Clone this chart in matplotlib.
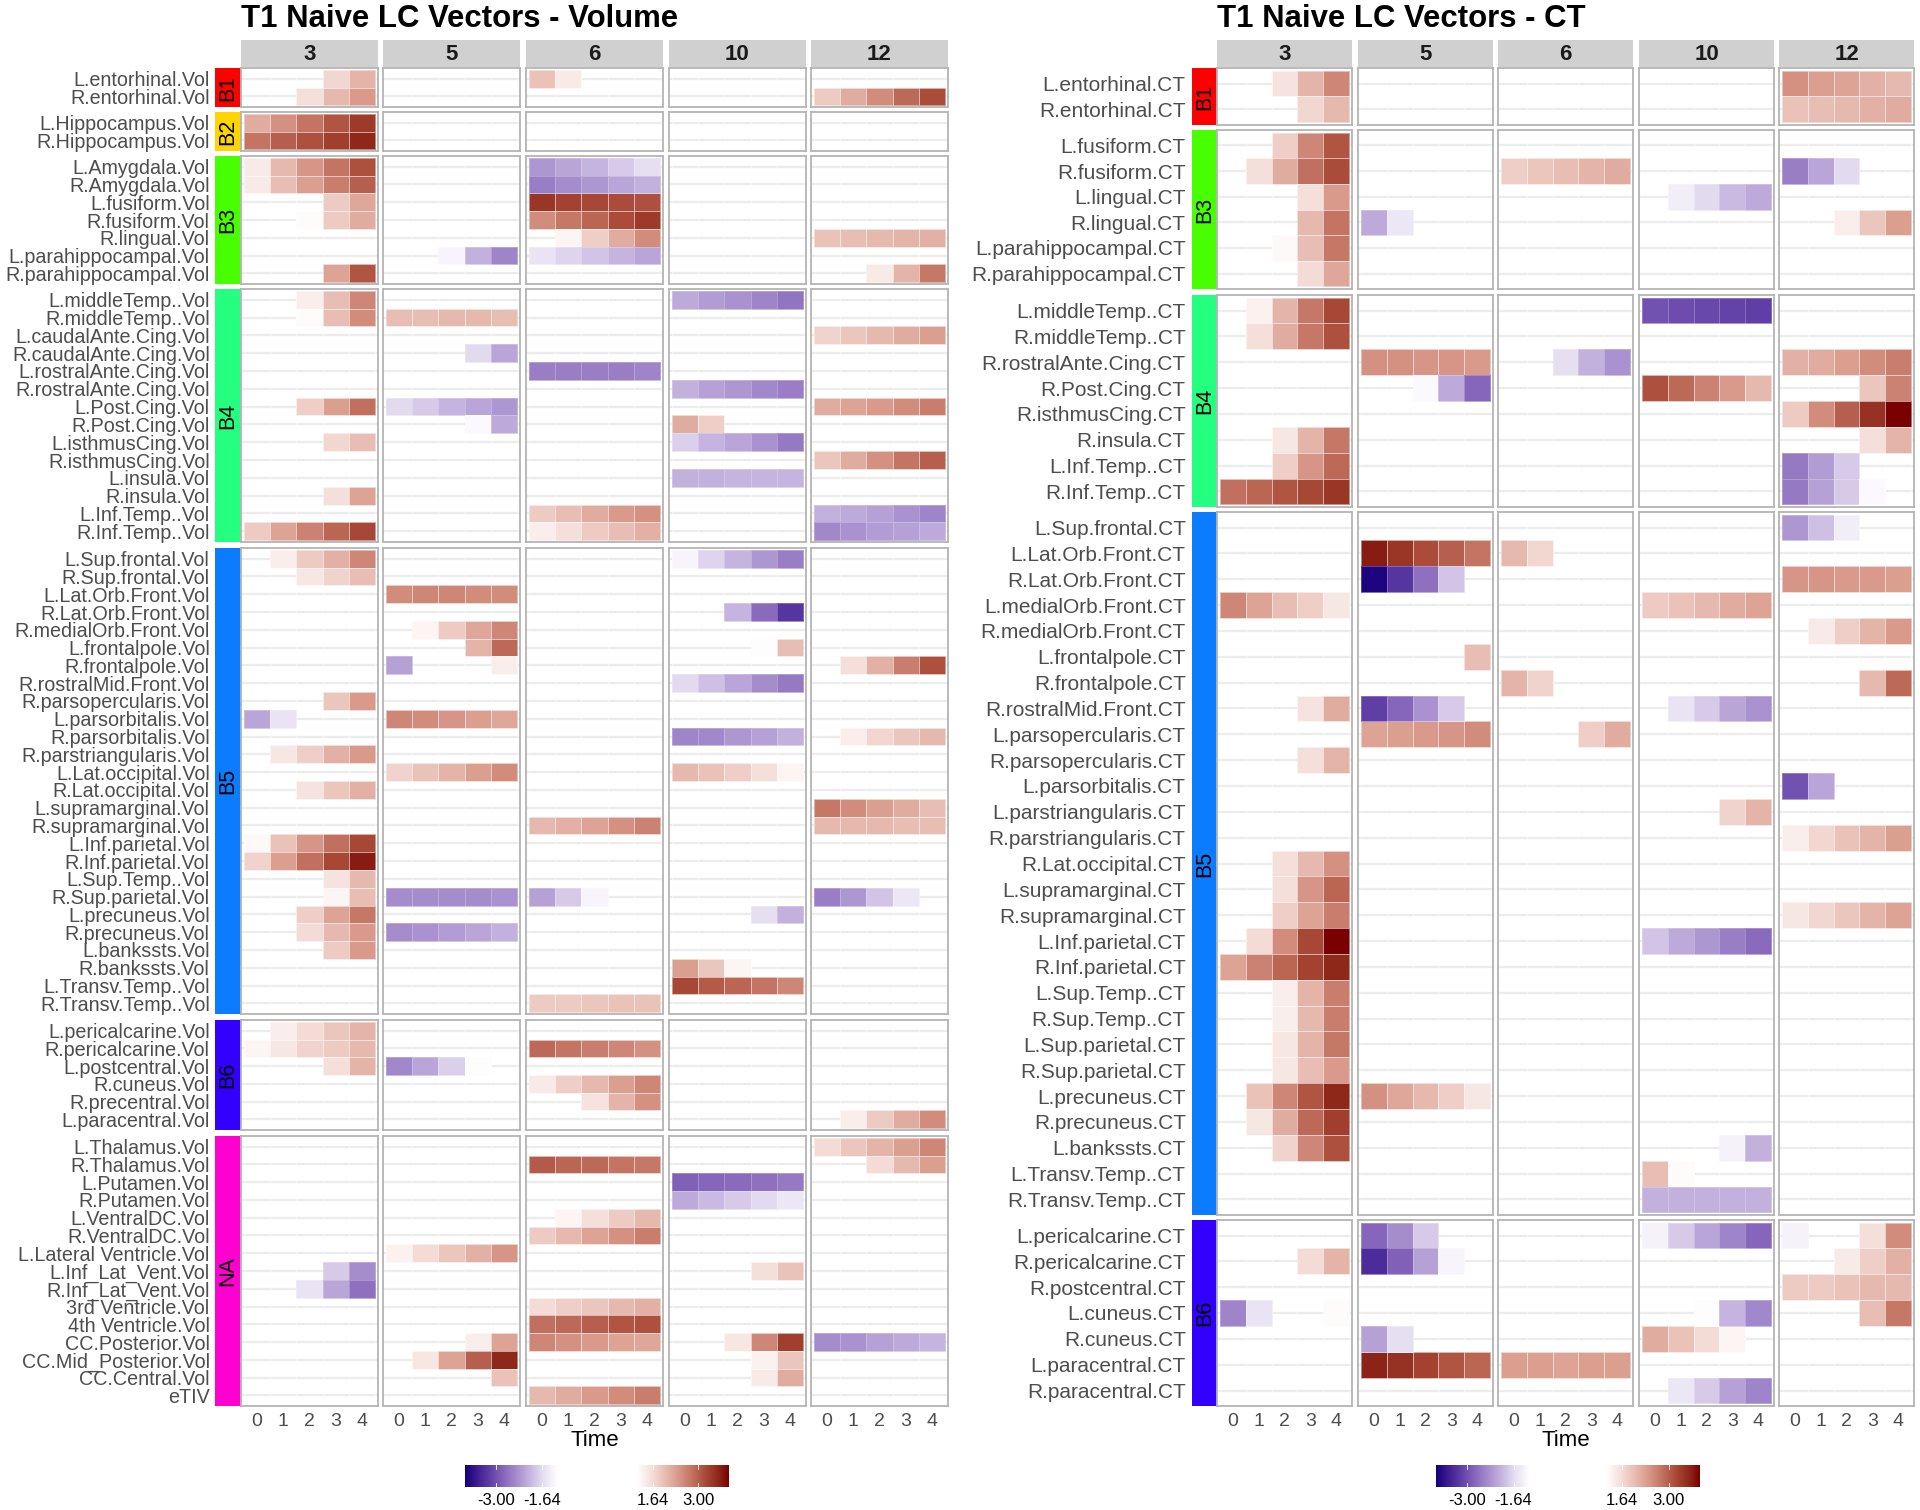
import numpy as np
import matplotlib
matplotlib.use('Agg')
import matplotlib.pyplot as plt
from matplotlib.colors import LinearSegmentedColormap

plt.rcParams['font.family'] = ['Liberation Sans', 'DejaVu Sans']

W, H = 1920, 1510

# week facets
weeks = [3, 5, 6, 10, 12]
times = [0, 1, 2, 3, 4]
block_colors = {'B1': '#ff0000', 'B2': '#ffd500', 'B3': '#48ff00', 'B4': '#24ff80',
                'B5': '#0b7bff', 'B6': '#3300ff', 'NA': '#ff00d0'}

# Volume: regions per block
vol_regions = {
    'B1': ['L.entorhinal.Vol', 'R.entorhinal.Vol'],
    'B2': ['L.Hippocampus.Vol', 'R.Hippocampus.Vol'],
    'B3': ['L.Amygdala.Vol', 'R.Amygdala.Vol', 'L.fusiform.Vol', 'R.fusiform.Vol', 'R.lingual.Vol',
           'L.parahippocampal.Vol', 'R.parahippocampal.Vol'],
    'B4': ['L.middleTemp..Vol', 'R.middleTemp..Vol', 'L.caudalAnte.Cing.Vol', 'R.caudalAnte.Cing.Vol',
           'L.rostralAnte.Cing.Vol', 'R.rostralAnte.Cing.Vol', 'L.Post.Cing.Vol', 'R.Post.Cing.Vol',
           'L.isthmusCing.Vol', 'R.isthmusCing.Vol', 'L.insula.Vol', 'R.insula.Vol',
           'L.Inf.Temp..Vol', 'R.Inf.Temp..Vol'],
    'B5': ['L.Sup.frontal.Vol', 'R.Sup.frontal.Vol', 'L.Lat.Orb.Front.Vol', 'R.Lat.Orb.Front.Vol',
           'R.medialOrb.Front.Vol', 'L.frontalpole.Vol', 'R.frontalpole.Vol', 'R.rostralMid.Front.Vol',
           'R.parsopercularis.Vol', 'L.parsorbitalis.Vol', 'R.parsorbitalis.Vol', 'R.parstriangularis.Vol',
           'L.Lat.occipital.Vol', 'R.Lat.occipital.Vol', 'L.supramarginal.Vol', 'R.supramarginal.Vol',
           'L.Inf.parietal.Vol', 'R.Inf.parietal.Vol', 'L.Sup.Temp..Vol', 'R.Sup.parietal.Vol',
           'L.precuneus.Vol', 'R.precuneus.Vol', 'L.bankssts.Vol', 'R.bankssts.Vol',
           'L.Transv.Temp..Vol', 'R.Transv.Temp..Vol'],
    'B6': ['L.pericalcarine.Vol', 'R.pericalcarine.Vol', 'L.postcentral.Vol', 'R.cuneus.Vol',
           'R.precentral.Vol', 'L.paracentral.Vol'],
    'NA': ['L.Thalamus.Vol', 'R.Thalamus.Vol', 'L.Putamen.Vol', 'R.Putamen.Vol', 'L.VentralDC.Vol',
           'R.VentralDC.Vol', 'L.Lateral Ventricle.Vol', 'L.Inf_Lat_Vent.Vol', 'R.Inf_Lat_Vent.Vol',
           '3rd Ventricle.Vol', '4th Ventricle.Vol', 'CC.Posterior.Vol', 'CC.Mid_Posterior.Vol',
           'CC.Central.Vol', 'eTIV'],
}

# CT: regions per block
ct_regions = {
    'B1': ['L.entorhinal.CT', 'R.entorhinal.CT'],
    'B3': ['L.fusiform.CT', 'R.fusiform.CT', 'L.lingual.CT', 'R.lingual.CT', 'L.parahippocampal.CT',
           'R.parahippocampal.CT'],
    'B4': ['L.middleTemp..CT', 'R.middleTemp..CT', 'R.rostralAnte.Cing.CT', 'R.Post.Cing.CT',
           'R.isthmusCing.CT', 'R.insula.CT', 'L.Inf.Temp..CT', 'R.Inf.Temp..CT'],
    'B5': ['L.Sup.frontal.CT', 'L.Lat.Orb.Front.CT', 'R.Lat.Orb.Front.CT', 'L.medialOrb.Front.CT',
           'R.medialOrb.Front.CT', 'L.frontalpole.CT', 'R.frontalpole.CT', 'R.rostralMid.Front.CT',
           'L.parsopercularis.CT', 'R.parsopercularis.CT', 'L.parsorbitalis.CT', 'L.parstriangularis.CT',
           'R.parstriangularis.CT', 'R.Lat.occipital.CT', 'L.supramarginal.CT', 'R.supramarginal.CT',
           'L.Inf.parietal.CT', 'R.Inf.parietal.CT', 'L.Sup.Temp..CT', 'R.Sup.Temp..CT',
           'L.Sup.parietal.CT', 'R.Sup.parietal.CT', 'L.precuneus.CT', 'R.precuneus.CT',
           'L.bankssts.CT', 'L.Transv.Temp..CT', 'R.Transv.Temp..CT'],
    'B6': ['L.pericalcarine.CT', 'R.pericalcarine.CT', 'R.postcentral.CT', 'L.cuneus.CT', 'R.cuneus.CT',
           'L.paracentral.CT', 'R.paracentral.CT'],
}

# z values read from the cell shades, 0 = not significant
vol_w3 = {
    'L.entorhinal.Vol': [0, 0, 0, 1.7, 2.1], 'R.entorhinal.Vol': [0, 0, 1.6, 2.05, 2.4],
    'L.Hippocampus.Vol': [2.2, 2.5, 2.8, 3.1, 3.4], 'R.Hippocampus.Vol': [2.8, 3.0, 3.15, 3.35, 3.6],
    'L.Amygdala.Vol': [1.45, 2.05, 2.45, 2.8, 3.15], 'R.Amygdala.Vol': [1.45, 2.0, 2.35, 2.7, 3.0],
    'L.fusiform.Vol': [0, 0, 0, 1.85, 2.25], 'R.fusiform.Vol': [0, 0, 1.22, 1.85, 2.2],
    'R.parahippocampal.Vol': [0, 0, 0, 2.3, 3.1],
    'L.middleTemp..Vol': [0, 0, 1.4, 2.0, 2.6], 'R.middleTemp..Vol': [0, 0, 1.22, 2.0, 2.55],
    'L.Post.Cing.Vol': [0, 0, 1.8, 2.35, 2.85], 'L.isthmusCing.Vol': [0, 0, 0, 1.7, 2.0],
    'R.insula.Vol': [0, 0, 0, 1.6, 2.3], 'R.Inf.Temp..Vol': [1.85, 2.3, 2.65, 2.95, 3.25],
    'L.Sup.frontal.Vol': [0, 1.4, 1.85, 2.15, 2.6], 'R.Sup.frontal.Vol': [0, 0, 1.5, 1.75, 2.0],
    'R.parsopercularis.Vol': [0, 0, 0, 1.9, 2.4], 'L.parsorbitalis.Vol': [-2.15, -1.55, 0, 0, 0],
    'R.parstriangularis.Vol': [0, 1.5, 1.8, 2.15, 2.4], 'R.Lat.occipital.Vol': [0, 0, 1.55, 1.9, 2.15],
    'L.Inf.parietal.Vol': [1.25, 1.95, 2.45, 2.85, 3.25], 'R.Inf.parietal.Vol': [1.75, 2.35, 2.85, 3.25, 3.7],
    'L.Sup.Temp..Vol': [0, 0, 0, 1.55, 2.05], 'R.Sup.parietal.Vol': [0, 0, 0, 1.3, 2.0],
    'L.precuneus.Vol': [0, 0, 1.8, 2.3, 2.75], 'R.precuneus.Vol': [0, 0, 1.65, 2.05, 2.4],
    'L.bankssts.Vol': [0, 0, 0, 1.85, 2.4],
    'L.pericalcarine.Vol': [0, 1.4, 1.65, 1.9, 2.1], 'R.pericalcarine.Vol': [1.3, 1.5, 1.75, 1.85, 2.05],
    'L.postcentral.Vol': [0, 0, 0, 1.6, 2.1],
    'L.Inf_Lat_Vent.Vol': [0, 0, 0, -1.8, -2.4], 'R.Inf_Lat_Vent.Vol': [0, 0, -1.55, -2.15, -2.7],
}
vol_w5 = {
    'L.parahippocampal.Vol': [0, 0, -1.3, -2.05, -2.5], 'R.middleTemp..Vol': [2.0, 2.0, 2.05, 2.05, 2.0],
    'R.caudalAnte.Cing.Vol': [0, 0, 0, -1.65, -2.15], 'L.Post.Cing.Vol': [-1.65, -1.8, -2.0, -2.15, -2.3],
    'R.Post.Cing.Vol': [0, 0, 0, -1.25, -2.1], 'L.Lat.Orb.Front.Vol': [2.55, 2.6, 2.6, 2.55, 2.55],
    'R.medialOrb.Front.Vol': [0, 1.3, 1.85, 2.25, 2.6], 'L.frontalpole.Vol': [0, 0, 0, 2.1, 2.9],
    'R.frontalpole.Vol': [-2.2, 0, 0, 0, 1.4], 'L.parsorbitalis.Vol': [2.6, 2.55, 2.45, 2.35, 2.25],
    'L.Lat.occipital.Vol': [1.75, 1.95, 2.1, 2.35, 2.55], 'R.Sup.parietal.Vol': [-2.4, -2.4, -2.4, -2.4, -2.35],
    'R.precuneus.Vol': [-2.4, -2.35, -2.25, -2.15, -2.05], 'L.postcentral.Vol': [-2.45, -2.15, -1.75, -1.2, 0],
    'L.Lateral Ventricle.Vol': [1.35, 1.65, 1.9, 2.15, 2.45], 'CC.Posterior.Vol': [0, 0, 0, 1.4, 2.3],
    'CC.Mid_Posterior.Vol': [0, 1.5, 2.3, 3.0, 3.6], 'CC.Central.Vol': [0, 0, 0, 0, 1.95],
}
vol_w6 = {
    'L.entorhinal.Vol': [1.95, 1.45, 0, 0, 0],
    'L.Amygdala.Vol': [-2.3, -2.15, -2.0, -1.8, -1.6], 'R.Amygdala.Vol': [-2.55, -2.4, -2.3, -2.15, -2.05],
    'L.fusiform.Vol': [3.45, 3.3, 3.25, 3.2, 3.15], 'R.fusiform.Vol': [2.55, 2.75, 2.95, 3.2, 3.4],
    'R.lingual.Vol': [0, 1.3, 1.8, 2.2, 2.55], 'L.parahippocampal.Vol': [-1.55, -1.7, -1.85, -2.0, -2.15],
    'L.rostralAnte.Cing.Vol': [-2.55, -2.55, -2.55, -2.55, -2.5], 'L.Inf.Temp..Vol': [1.85, 2.0, 2.2, 2.4, 2.5],
    'R.Inf.Temp..Vol': [1.4, 1.6, 1.85, 2.0, 2.15], 'R.supramarginal.Vol': [2.05, 2.15, 2.3, 2.5, 2.65],
    'R.Transv.Temp..Vol': [1.85, 1.85, 1.9, 1.95, 1.95], 'R.Sup.parietal.Vol': [-2.2, -1.8, -1.3, 0, 0],
    'R.pericalcarine.Vol': [2.9, 2.8, 2.7, 2.6, 2.5], 'R.cuneus.Vol': [1.45, 1.8, 2.05, 2.35, 2.6],
    'R.precentral.Vol': [0, 0, 1.55, 2.1, 2.5], 'R.Thalamus.Vol': [3.05, 2.95, 2.9, 2.8, 2.75],
    'L.VentralDC.Vol': [0, 1.3, 1.6, 1.85, 2.05], 'R.VentralDC.Vol': [1.85, 2.05, 2.3, 2.5, 2.7],
    '3rd Ventricle.Vol': [1.65, 1.8, 1.9, 2.05, 2.15], '4th Ventricle.Vol': [2.85, 2.9, 3.0, 3.1, 3.15],
    'CC.Posterior.Vol': [2.6, 2.5, 2.4, 2.3, 2.25], 'eTIV': [2.05, 2.2, 2.4, 2.55, 2.7],
}
vol_w10 = {
    'L.middleTemp..Vol': [-2.1, -2.25, -2.35, -2.5, -2.65], 'R.rostralAnte.Cing.Vol': [-2.05, -2.2, -2.3, -2.45, -2.55],
    'R.Post.Cing.Vol': [2.2, 1.8, 0, 0, 0], 'L.isthmusCing.Vol': [-1.75, -2.0, -2.15, -2.35, -2.6],
    'L.insula.Vol': [-2.05, -2.05, -2.0, -2.0, -2.0], 'L.Sup.frontal.Vol': [-1.3, -1.7, -2.0, -2.3, -2.55],
    'R.Lat.Orb.Front.Vol': [0, 0, -2.0, -2.75, -3.3], 'L.frontalpole.Vol': [0, 0, 0, 1.2, 2.0],
    'R.rostralMid.Front.Vol': [-1.65, -1.9, -2.15, -2.4, -2.6], 'R.parsorbitalis.Vol': [-2.5, -2.45, -2.3, -2.2, -2.05],
    'L.Lat.occipital.Vol': [2.05, 1.95, 1.8, 1.6, 1.3], 'L.precuneus.Vol': [0, 0, 0, -1.6, -2.05],
    'R.bankssts.Vol': [2.35, 1.9, 1.3, 0, 0], 'L.Transv.Temp..Vol': [3.25, 3.05, 2.95, 2.8, 2.6],
    'L.Putamen.Vol': [-2.85, -2.8, -2.75, -2.7, -2.6], 'R.Putamen.Vol': [-2.1, -1.95, -1.8, -1.65, -1.5],
    'L.Inf_Lat_Vent.Vol': [0, 0, 0, 1.6, 1.95], 'CC.Posterior.Vol': [0, 0, 1.5, 2.6, 3.35],
    'CC.Mid_Posterior.Vol': [0, 0, 0, 1.35, 1.9], 'CC.Central.Vol': [0, 0, 0, 1.45, 2.2],
}
vol_w12 = {
    'R.entorhinal.Vol': [1.85, 2.2, 2.55, 2.9, 3.2], 'R.lingual.Vol': [1.95, 2.0, 2.05, 2.1, 2.15],
    'R.parahippocampal.Vol': [0, 0, 1.45, 2.1, 2.75], 'L.caudalAnte.Cing.Vol': [1.75, 1.9, 2.05, 2.2, 2.35],
    'L.Post.Cing.Vol': [2.2, 2.3, 2.4, 2.55, 2.7], 'R.isthmusCing.Vol': [1.9, 2.2, 2.5, 2.8, 3.0],
    'L.Inf.Temp..Vol': [-2.05, -2.1, -2.2, -2.35, -2.5], 'R.Inf.Temp..Vol': [-2.45, -2.35, -2.25, -2.2, -2.1],
    'R.frontalpole.Vol': [0, 1.6, 2.15, 2.7, 3.15], 'R.parsorbitalis.Vol': [0, 1.4, 1.7, 1.9, 2.05],
    'L.supramarginal.Vol': [2.75, 2.55, 2.35, 2.2, 2.0], 'R.supramarginal.Vol': [2.05, 2.05, 2.05, 2.0, 2.0],
    'R.Sup.parietal.Vol': [-2.55, -2.3, -1.85, -1.5, 0], 'L.paracentral.Vol': [0, 1.4, 1.85, 2.2, 2.55],
    'L.Thalamus.Vol': [1.65, 1.9, 2.1, 2.35, 2.6], 'R.Thalamus.Vol': [0, 0, 1.65, 2.05, 2.35],
    'CC.Posterior.Vol': [-2.4, -2.35, -2.2, -2.1, -2.0],
}

ct_w3 = {
    'L.entorhinal.CT': [0, 0, 1.55, 2.1, 2.6], 'R.entorhinal.CT': [0, 0, 0, 1.7, 2.05],
    'L.fusiform.CT': [0, 0, 1.8, 2.6, 3.1], 'R.fusiform.CT': [0, 1.6, 2.2, 2.85, 3.2],
    'L.lingual.CT': [0, 0, 0, 1.6, 2.4], 'R.lingual.CT': [0, 0, 0, 2.05, 2.8],
    'L.parahippocampal.CT': [0, 0, 1.25, 2.0, 2.75], 'R.parahippocampal.CT': [0, 0, 0, 1.65, 2.25],
    'L.middleTemp..CT': [0, 1.35, 2.1, 2.75, 3.25], 'R.middleTemp..CT': [0, 1.6, 2.2, 2.75, 3.15],
    'R.insula.CT': [0, 0, 1.5, 2.1, 2.75], 'L.Inf.Temp..CT': [0, 0, 1.8, 2.45, 2.9],
    'R.Inf.Temp..CT': [2.85, 2.95, 3.1, 3.25, 3.45], 'L.medialOrb.Front.CT': [2.6, 2.3, 2.0, 1.8, 1.5],
    'R.rostralMid.Front.CT': [0, 0, 0, 1.55, 2.2], 'R.parsopercularis.CT': [0, 0, 0, 1.6, 2.1],
    'R.Lat.occipital.CT': [0, 0, 1.6, 2.05, 2.5], 'L.supramarginal.CT': [0, 0, 1.6, 2.45, 2.95],
    'R.supramarginal.CT': [0, 0, 1.8, 2.3, 2.7], 'L.Inf.parietal.CT': [0, 1.65, 2.55, 3.25, 3.9],
    'R.Inf.parietal.CT': [2.3, 2.65, 2.95, 3.3, 3.6], 'L.Sup.Temp..CT': [0, 0, 1.4, 2.1, 2.7],
    'R.Sup.Temp..CT': [0, 0, 1.4, 2.05, 2.7], 'L.Sup.parietal.CT': [0, 0, 1.5, 2.1, 2.75],
    'R.Sup.parietal.CT': [0, 0, 1.5, 2.0, 2.4], 'L.precuneus.CT': [0, 1.95, 2.6, 3.1, 3.6],
    'R.precuneus.CT': [0, 1.5, 2.2, 2.9, 3.35], 'L.bankssts.CT': [0, 0, 1.75, 2.6, 3.15],
    'R.pericalcarine.CT': [0, 0, 0, 1.65, 2.1], 'L.cuneus.CT': [-2.5, -1.55, 0, 0, 1.22],
}
ct_w5 = {
    'R.lingual.CT': [-2.1, -1.5, 0, 0, 0], 'R.rostralAnte.Cing.CT': [2.5, 2.5, 2.45, 2.45, 2.4],
    'R.Post.Cing.CT': [0, 0, -1.25, -2.1, -2.8], 'L.Lat.Orb.Front.CT': [3.7, 3.45, 3.2, 3.0, 2.8],
    'R.Lat.Orb.Front.CT': [-3.85, -3.3, -2.7, -1.85, 0], 'L.frontalpole.CT': [0, 0, 0, 0, 2.0],
    'R.rostralMid.Front.CT': [-3.2, -2.8, -2.35, -1.8, 0], 'L.parsopercularis.CT': [2.3, 2.35, 2.4, 2.45, 2.55],
    'L.precuneus.CT': [2.5, 2.25, 2.05, 1.8, 1.5], 'L.pericalcarine.CT': [-2.8, -2.4, -1.8, 0, 0],
    'R.pericalcarine.CT': [-3.4, -2.85, -2.2, -1.3, 0], 'R.cuneus.CT': [-2.2, -1.6, 0, 0, 0],
    'L.paracentral.CT': [3.65, 3.5, 3.3, 3.1, 2.95],
}
ct_w6 = {
    'R.fusiform.CT': [1.8, 1.9, 2.0, 2.1, 2.2], 'R.rostralAnte.Cing.CT': [0, 0, -1.6, -2.05, -2.35],
    'L.Lat.Orb.Front.CT': [2.05, 1.7, 0, 0, 0], 'R.frontalpole.CT': [2.1, 1.75, 0, 0, 0],
    'L.parsopercularis.CT': [0, 0, 0, 1.8, 2.2], 'L.paracentral.CT': [2.35, 2.35, 2.3, 2.35, 2.35],
}
ct_w10 = {
    'L.lingual.CT': [0, -1.4, -1.65, -1.95, -2.1], 'L.middleTemp..CT': [-3.0, -3.05, -3.1, -3.15, -3.2],
    'R.Post.Cing.CT': [3.15, 2.9, 2.65, 2.4, 2.05], 'L.medialOrb.Front.CT': [1.85, 1.95, 2.05, 2.2, 2.3],
    'R.rostralMid.Front.CT': [0, -1.55, -1.8, -2.15, -2.35], 'L.parstriangularis.CT': [0, 0, 0, 1.75, 2.1],
    'L.Inf.parietal.CT': [-1.85, -2.1, -2.3, -2.55, -2.75], 'L.bankssts.CT': [0, 0, 0, -1.35, -2.05],
    'L.Transv.Temp..CT': [2.0, 1.22, 0, 0, 0], 'R.Transv.Temp..CT': [-2.05, -2.05, -2.05, -2.05, -2.05],
    'L.pericalcarine.CT': [-1.35, -1.8, -2.15, -2.5, -2.8], 'L.cuneus.CT': [0, 0, -1.2, -2.0, -2.45],
    'R.cuneus.CT': [2.2, 1.95, 1.65, 1.3, 0], 'R.paracentral.CT': [0, -1.5, -1.8, -2.2, -2.5],
}
ct_w12 = {
    'L.entorhinal.CT': [2.5, 2.35, 2.3, 2.15, 2.05], 'R.entorhinal.CT': [1.95, 2.0, 2.05, 2.15, 2.2],
    'R.fusiform.CT': [-2.55, -2.15, -1.65, 0, 0], 'R.lingual.CT': [0, 0, 1.4, 1.9, 2.35],
    'R.rostralAnte.Cing.CT': [2.15, 2.2, 2.35, 2.55, 2.7], 'R.Post.Cing.CT': [0, 0, 0, 1.9, 2.65],
    'R.isthmusCing.CT': [1.85, 2.55, 3.0, 3.5, 3.9], 'R.insula.CT': [0, 0, 0, 1.6, 2.1],
    'L.Inf.Temp..CT': [-2.6, -2.25, -1.8, 0, 0], 'R.Inf.Temp..CT': [-2.6, -2.2, -1.8, -1.25, 0],
    'L.Sup.frontal.CT': [-2.3, -1.9, -1.4, 0, 0], 'R.Lat.Orb.Front.CT': [2.45, 2.45, 2.4, 2.4, 2.35],
    'R.medialOrb.Front.CT': [0, 1.45, 1.8, 2.1, 2.4], 'R.frontalpole.CT': [0, 0, 0, 2.05, 2.9],
    'L.parsorbitalis.CT': [-3.0, -2.15, 0, 0, 0], 'R.parstriangularis.CT': [1.4, 1.7, 1.95, 2.1, 2.35],
    'R.supramarginal.CT': [1.5, 1.7, 1.9, 2.1, 2.3], 'L.pericalcarine.CT': [-1.35, 0, 0, 1.6, 2.55],
    'R.pericalcarine.CT': [0, 0, 1.45, 1.8, 2.15], 'R.postcentral.CT': [1.85, 1.85, 1.95, 2.05, 2.05],
    'L.cuneus.CT': [0, 0, 0, 2.0, 2.75],
}

# colour scales, one each side of zero
z_lo, z_hi = 1.17, 3.92
pos_stops = [(1.17, '#ffffff'), (1.6, '#f5dfda'), (2.0, '#e8bdb3'), (2.4, '#d99a8b'), (2.8, '#c47463'),
             (3.2, '#ab4b39'), (3.6, '#8f2a1b'), (3.92, '#780000')]
neg_stops = [(1.17, '#ffffff'), (1.6, '#e6dff1'), (2.0, '#c5b4df'), (2.4, '#a58dcc'), (2.8, '#8666bb'),
             (3.2, '#5f3ea6'), (3.6, '#3a1a90'), (3.92, '#14007a')]


def make_cmap(stops):
    return LinearSegmentedColormap.from_list(
        'z', [((v - z_lo) / (z_hi - z_lo), c) for v, c in stops], N=256)


pos_cmap = make_cmap(pos_stops)
neg_cmap = make_cmap(neg_stops)

fig = plt.figure(figsize=(W / 100, H / 100), dpi=100)


def px_axes(x0, y0, x1, y1, **kw):
    # pixel box, y measured from the top of the image
    return fig.add_axes([x0 / W, 1 - y1 / H, (x1 - x0) / W, (y1 - y0) / H], **kw)


def draw_chart(title, regions, facets, col_x, strip_x, block_y, label_size, bars):
    first_top = block_y[0][0]
    for (x0, x1), wk in zip(col_x, weeks):
        st = px_axes(x0, 40, x1, first_top - 1)
        st.set_facecolor('#d0d0d0')
        st.set_xticks([])
        st.set_yticks([])
        for s in st.spines.values():
            s.set_visible(False)
        st.text(0.5, 0.47, str(wk), transform=st.transAxes, ha='center', va='center',
                fontsize=16, fontweight='bold', color='#1a1a1a')

    for (block, names), (y0, y1) in zip(regions.items(), block_y):
        n = len(names)
        sa = px_axes(strip_x[0], y0, strip_x[1], y1)
        sa.set_facecolor(block_colors[block])
        sa.set_xticks([])
        sa.set_yticks([])
        for s in sa.spines.values():
            s.set_visible(False)
        sa.text(0.5, 0.5, block, transform=sa.transAxes, rotation=90, ha='center', va='center',
                fontsize=15.5, color='black')

        for j, ((x0, x1), values) in enumerate(zip(col_x, facets)):
            ax = px_axes(x0, y0, x1, y1)
            ax.set_xlim(-0.6, 4.6)
            ax.set_ylim(n - 0.4, -0.6)
            ax.set_axisbelow(True)
            ax.yaxis.grid(True, color='#ececec', lw=1.6)
            for s in ax.spines.values():
                s.set_color('#b4b4b4')
                s.set_linewidth(1.3)
            z = np.array([values.get(name, [0] * 5) for name in names], dtype=float)
            edges_x = np.arange(len(times) + 1) - 0.5
            edges_y = np.arange(n + 1) - 0.5
            for arr, cmap in ((z, pos_cmap), (-z, neg_cmap)):
                ax.pcolormesh(edges_x, edges_y, np.ma.masked_less_equal(arr, 0), cmap=cmap,
                              vmin=z_lo, vmax=z_hi, edgecolors=(1, 1, 1, 0.25), linewidth=0.7)
            ax.tick_params(axis='both', length=0, colors='#4d4d4d')
            ax.set_yticks(range(n))
            if j == 0:
                ax.set_yticklabels(names, fontsize=label_size, color='#4d4d4d')
                ax.tick_params(axis='y', pad=22.5)
            else:
                ax.set_yticklabels([])
            ax.set_xticks(times)
            if (y1 == block_y[-1][1]):
                ax.set_xticklabels(times, fontsize=14, color='#4d4d4d')
                ax.tick_params(axis='x', pad=5)
            else:
                ax.set_xticklabels([])

    mid = (col_x[2][0] + col_x[2][1]) / 2
    fig.text(col_x[0][0] / W, 1 - 19 / H, title, fontsize=22.4, fontweight='bold', va='center', color='black')
    fig.text(mid / W, 1 - 1440 / H, 'Time', fontsize=16, ha='center', va='center', color='black')

    # two colour bars under the panels
    neg_x, pos_x = bars
    for (x0, x1), cmap, rng, ticks in (
            (neg_x, neg_cmap, (-z_hi, -z_lo), (-3.0, -1.64)),
            (pos_x, pos_cmap, (z_lo, z_hi), (1.64, 3.0))):
        cb = px_axes(x0, 1465, x1, 1487)
        grad = np.linspace(rng[0], rng[1], 200)
        shade = np.abs(grad)
        cb.imshow(shade[None, :], extent=[rng[0], rng[1], 0, 1], aspect='auto', cmap=cmap,
                  vmin=z_lo, vmax=z_hi, interpolation='bilinear')
        cb.set_yticks([])
        cb.set_xticks(ticks)
        cb.set_xticklabels([f'{t:.2f}' for t in ticks], fontsize=12, color='black')
        cb.tick_params(axis='x', length=0, pad=4)
        for t in ticks:
            cb.plot([t, t], [0, 0.2], color='white', lw=0.6)
            cb.plot([t, t], [0.8, 1], color='white', lw=0.6)
        cb.set_ylim(0, 1)
        cb.set_xlim(rng)
        for s in cb.spines.values():
            s.set_visible(False)


# pixel layout of both charts
vol_cols = [(241, 378), (383, 520), (526, 663), (669, 806), (811, 948)]
vol_rows = [(68, 107), (112, 151), (156, 284), (289, 542), (548, 1014), (1020, 1130), (1136, 1406)]
ct_cols = [(1217, 1352), (1358, 1493), (1498, 1633), (1639, 1774), (1779, 1914)]
ct_rows = [(68, 125), (130, 289), (295, 507), (512, 1215), (1220, 1406)]

draw_chart('T1 Naive LC Vectors - Volume', vol_regions, [vol_w3, vol_w5, vol_w6, vol_w10, vol_w12],
           vol_cols, (215, 241), vol_rows, 14.2, ((465, 558), (637, 729)))
draw_chart('T1 Naive LC Vectors - CT', ct_regions, [ct_w3, ct_w5, ct_w6, ct_w10, ct_w12],
           ct_cols, (1191.5, 1217), ct_rows, 15, ((1436, 1529.5), (1606, 1700)))

fig.savefig('out.png', dpi=100)
